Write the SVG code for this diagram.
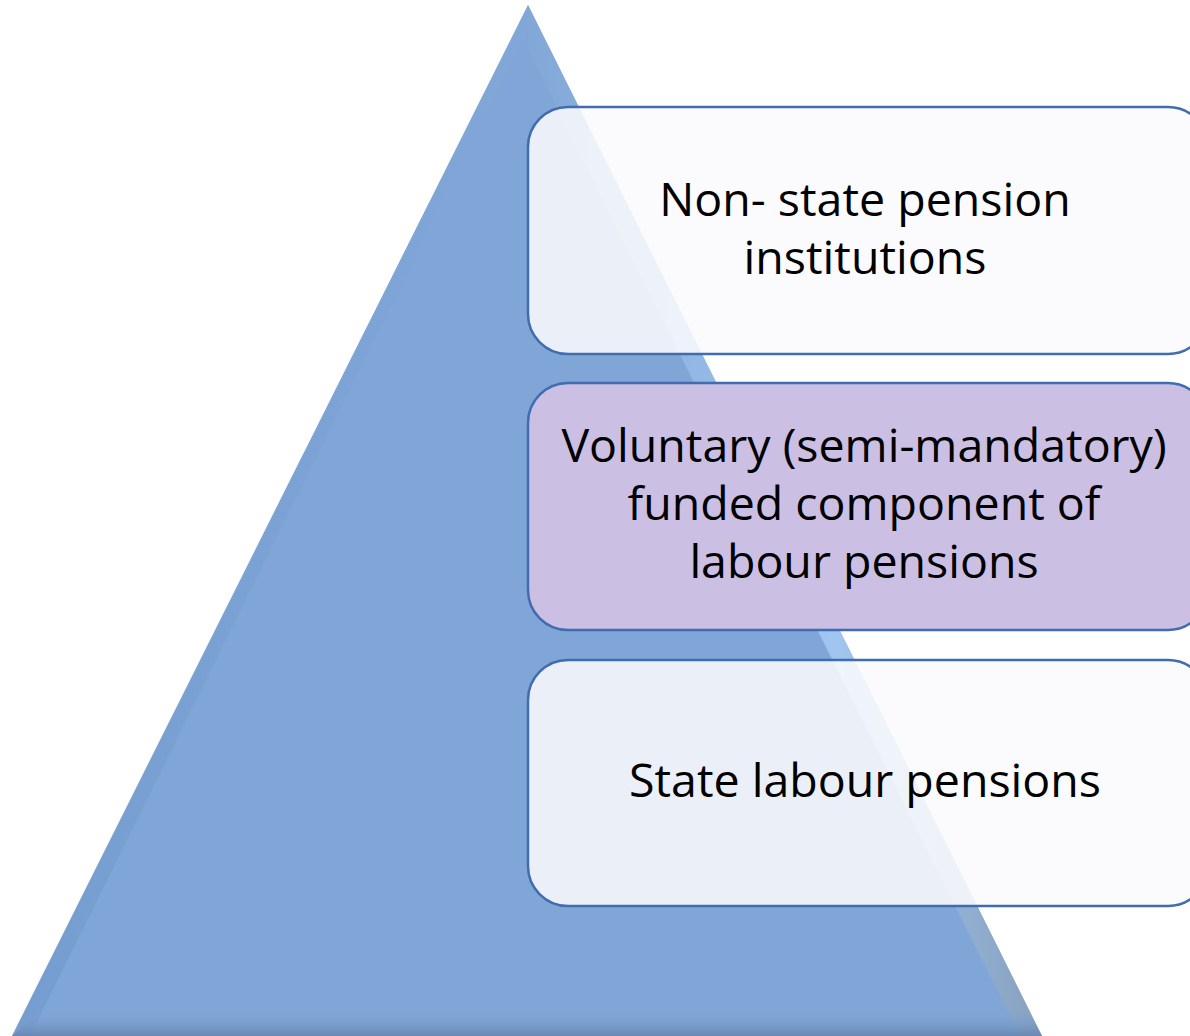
<svg xmlns="http://www.w3.org/2000/svg" width="1190" height="1036" viewBox="0 0 1190 1036">
<defs>
<linearGradient id="triL" x1="0" y1="0" x2="1" y2="0">
<stop offset="0" stop-color="#6f97cc"/>
<stop offset="1" stop-color="#82a8d8"/>
</linearGradient>
<linearGradient id="edgeR" x1="0" y1="0" x2="1" y2="0">
<stop offset="0" stop-color="#82a8d8"/>
<stop offset="0.6" stop-color="#a9cdf6"/>
<stop offset="1" stop-color="#8aa0b8"/>
</linearGradient>
<linearGradient id="baseG" x1="0" y1="0" x2="0" y2="1">
<stop offset="0" stop-color="#7fa6d6" stop-opacity="0"/>
<stop offset="1" stop-color="#6a88b3"/>
</linearGradient>
<style>
.box{stroke:#3f6db0;stroke-width:2.5}
.light{fill:#fafafd;fill-opacity:0.88}
.purple{fill:#cbbfe3}
.lbl{font-family:"Open Sans","Liberation Sans",Arial,sans-serif;font-size:46.5px;fill:#000;text-anchor:middle}
</style>
</defs>
<g id="pyramid">
<polygon points="528,5 12,1036 1042,1036" fill="#7fa6d6"/>
<polygon points="528,5 12,1036 30,1036 528,30" fill="url(#triL)" opacity="0.6"/>
<polygon points="528,5 1042,1036 1020,1036 528,50" fill="url(#edgeR)" opacity="0.8"/>
<polygon points="40,1010 1028,1010 1042,1036 12,1036" fill="url(#baseG)"/>
</g>
<g id="node-top">
<rect class="box light" x="528" y="107" width="680" height="247" rx="40"/>
<text class="lbl" x="865" y="216">Non- state pension</text>
<text class="lbl" x="865" y="274">institutions</text>
</g>
<g id="node-middle">
<rect class="box purple" x="528" y="383" width="680" height="247" rx="40"/>
<text class="lbl" x="864" y="462">Voluntary (semi-mandatory)</text>
<text class="lbl" x="864" y="520">funded component of</text>
<text class="lbl" x="864" y="578">labour pensions</text>
</g>
<g id="node-bottom">
<rect class="box light" x="528" y="660" width="680" height="246" rx="40"/>
<text class="lbl" x="865" y="797">State labour pensions</text>
</g>
<g id="connectors"></g>
</svg>
